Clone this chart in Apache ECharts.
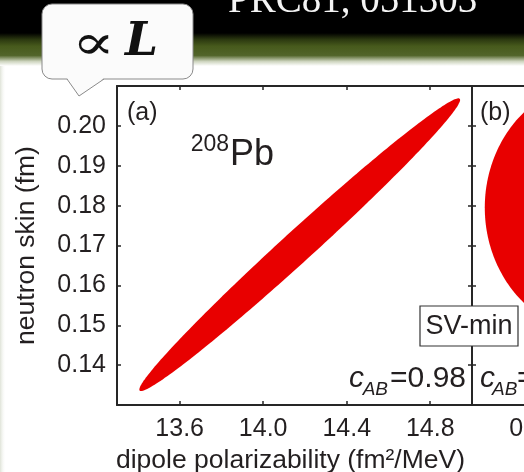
<!DOCTYPE html>
<html>
<head>
<meta charset="utf-8">
<script src="https://cdn.jsdelivr.net/npm/echarts@6/dist/echarts.min.js"></script>
<style>
  html, body { margin: 0; padding: 0; background: #ffffff; }
  #chart { width: 524px; height: 472px; }
</style>
</head>
<body>
<div id="chart"></div>
<script>
// Axis ranges and ticks
const polarizabilityRange = [13.3, 15.0];
const polarizabilityTicks = [13.6, 14.0, 14.4, 14.8];
const skinRange = [0.13, 0.21];
const skinTicks = [0.14, 0.15, 0.16, 0.17, 0.18, 0.19, 0.20];
const panelBRange = [0.3, 0.95];
const panelBTicks = [0.4, 0.5, 0.6, 0.7, 0.8, 0.9];

// Covariance ellipses: [centre x, centre y, half-span x, half-span y, half-thickness in y at centre x]
const pbEllipse = [14.175, 0.1702, 0.768, 0.0367, 0.00527];
const panelBEllipse = [0.534, 0.1795, 0.2106, 0.0318, 0.0318];

const correlationA = '0.98';

const chart = echarts.init(document.getElementById('chart'), null, { renderer: 'canvas' });

const AXIS_COLOR = '#262626';
const TEXT_COLOR = '#231f20';
const FONT = 'Liberation Sans';

function ellipseItem(color) {
  return function (params, api) {
    const cx = api.value(0), cy = api.value(1);
    const ax = api.value(2), ay = api.value(3), h = api.value(4);
    const rho = Math.sqrt(Math.max(0, 1 - (h / ay) * (h / ay)));
    const pts = [];
    const n = 240;
    for (let i = 0; i < n; i++) {
      const t = 2 * Math.PI * i / n;
      const x = cx + ax * Math.cos(t);
      const y = cy + rho * ay * Math.cos(t) + h * Math.sin(t);
      pts.push(api.coord([x, y]));
    }
    return { type: 'polygon', shape: { points: pts }, style: { fill: color } };
  };
}

function tickStyle(values) {
  return { show: true, inside: true, length: 4, customValues: values, lineStyle: { color: AXIS_COLOR, width: 1.5 } };
}

function frameAxis(extra) {
  return Object.assign({
    type: 'value',
    axisLine: { show: true, onZero: false, lineStyle: { color: AXIS_COLOR, width: 2 } },
    axisLabel: { show: false },
    splitLine: { show: false },
    minorTick: { show: false }
  }, extra);
}

const labelStyle = { color: TEXT_COLOR, fontFamily: FONT, fontSize: 25 };
const nameStyle = { color: TEXT_COLOR, fontFamily: FONT, fontSize: 26.5 };

// text anchored on its baseline (middle alignment shifted by roughly a third of the size)
function label(text, x, baseline, size, opts) {
  opts = opts || {};
  return {
    type: 'text', z: opts.z || 10, x: x, y: baseline - 0.35 * size,
    scaleX: opts.scaleX || 1,
    style: {
      text: text, fill: opts.color || TEXT_COLOR,
      font: (opts.style || '') + ' ' + size + 'px ' + (opts.family || '"Liberation Sans"'),
      align: opts.align || 'left', verticalAlign: 'middle'
    }
  };
}

const option = {
  animation: false,
  backgroundColor: '#ffffff',
  grid: [
    { left: 117, top: 86, width: 355, height: 319, containLabel: false, outerBoundsMode: 'none' },
    { left: 472, top: 86, width: 355, height: 319, containLabel: false, outerBoundsMode: 'none' }
  ],
  xAxis: [
    frameAxis({
      gridIndex: 0, position: 'bottom',
      min: polarizabilityRange[0], max: polarizabilityRange[1],
      axisTick: tickStyle(polarizabilityTicks),
      axisLabel: Object.assign({ show: true, customValues: polarizabilityTicks, margin: 12, formatter: v => v.toFixed(1) }, labelStyle),
      name: 'dipole polarizability (fm²/MeV)', nameLocation: 'middle', nameGap: 41,
      nameTextStyle: Object.assign({ padding: [0, 8, 0, 0] }, nameStyle)
    }),
    frameAxis({
      gridIndex: 0, position: 'top',
      min: polarizabilityRange[0], max: polarizabilityRange[1],
      axisTick: tickStyle(polarizabilityTicks)
    }),
    frameAxis({
      gridIndex: 1, position: 'bottom',
      min: panelBRange[0], max: panelBRange[1],
      axisTick: tickStyle(panelBTicks),
      axisLabel: Object.assign({ show: true, customValues: panelBTicks, margin: 12, formatter: v => v.toFixed(1) }, labelStyle)
    }),
    frameAxis({
      gridIndex: 1, position: 'top',
      min: panelBRange[0], max: panelBRange[1],
      axisTick: tickStyle(panelBTicks)
    })
  ],
  yAxis: [
    frameAxis({
      gridIndex: 0, position: 'left',
      min: skinRange[0], max: skinRange[1],
      axisTick: tickStyle(skinTicks),
      axisLabel: Object.assign({ show: true, customValues: skinTicks, margin: 11, formatter: v => v.toFixed(2) }, labelStyle),
      name: 'neutron skin (fm)', nameLocation: 'middle', nameGap: 77, nameRotate: 90,
      nameTextStyle: nameStyle
    }),
    frameAxis({
      gridIndex: 0, position: 'right',
      min: skinRange[0], max: skinRange[1],
      axisTick: tickStyle(skinTicks)
    }),
    frameAxis({
      gridIndex: 1, position: 'left',
      min: skinRange[0], max: skinRange[1],
      axisTick: tickStyle(skinTicks)
    })
  ],
  series: [
    {
      type: 'custom', xAxisIndex: 0, yAxisIndex: 0, clip: true,
      renderItem: ellipseItem('#e80000'),
      encode: { x: [0, 2], y: [1, 3] },
      data: [pbEllipse]
    },
    {
      type: 'custom', xAxisIndex: 2, yAxisIndex: 2, clip: true,
      renderItem: ellipseItem('#e80000'),
      encode: { x: [0, 2], y: [1, 3] },
      data: [panelBEllipse]
    }
  ],
  graphic: [
    // slide header band
    {
      type: 'rect', z: -10, silent: true,
      shape: { x: 0, y: 0, width: 524, height: 66 },
      style: {
        fill: new echarts.graphic.LinearGradient(0, 0, 0, 1, [
          { offset: 0, color: '#000000' },
          { offset: 0.5, color: '#000000' },
          { offset: 0.6, color: '#2c3910' },
          { offset: 0.7, color: '#475a1c' },
          { offset: 0.84, color: '#52652a' },
          { offset: 0.93, color: '#cdd4be' },
          { offset: 1, color: '#ffffff' }
        ])
      }
    },
    {
      type: 'rect', z: -9, silent: true,
      shape: { x: 0, y: 66, width: 6, height: 406 },
      style: {
        fill: new echarts.graphic.LinearGradient(0, 0, 1, 0, [
          { offset: 0, color: '#dfe3d8' },
          { offset: 1, color: 'rgba(255,255,255,0)' }
        ])
      }
    },
    label('PRC81, 051303', 228, 15, 39, { family: '"Liberation Serif"', color: '#f4f4f4' }),
    // callout bubble
    {
      type: 'rect', z: 10,
      shape: { x: 42, y: 4, width: 151, height: 75, r: 10 },
      style: { fill: '#fbfbfb', stroke: '#8a8a8a', lineWidth: 1 }
    },
    {
      type: 'polygon', z: 11,
      shape: { points: [[67, 78], [79, 96], [104, 78]] },
      style: { fill: '#fbfbfb' }
    },
    {
      type: 'polyline', z: 12,
      shape: { points: [[67, 79], [79, 96], [104, 79]] },
      style: { stroke: '#8a8a8a', lineWidth: 1, fill: null }
    },
    label('∝', 72, 63, 49, { family: '"DejaVu Serif"', color: '#111', scaleX: 1.3, z: 12 }),
    label('L', 125, 59, 47, { family: '"DejaVu Serif"', style: 'italic bold', color: '#111', z: 12 }),
    // panel annotations
    label('(a)', 127, 122, 25),
    label('(b)', 480, 122, 25),
    label('208', 229, 153, 23, { align: 'right' }),
    label('Pb', 230, 168, 36),
    {
      type: 'rect', z: 10,
      shape: { x: 420, y: 306, width: 98, height: 40 },
      style: { fill: '#ffffff', stroke: '#333333', lineWidth: 1.2 }
    },
    label('SV-min', 469, 336, 27, { align: 'center', z: 11 }),
    label('c', 364, 389, 30, { style: 'italic', align: 'right' }),
    label('AB', 388, 396, 19, { style: 'italic', align: 'right' }),
    label('=' + correlationA, 466, 389, 30, { align: 'right' }),
    label('c', 480, 389, 30, { style: 'italic' }),
    label('AB', 492, 396, 19, { style: 'italic' }),
    label('=', 517, 389, 30)
  ]
};

chart.setOption(option);
</script>
</body>
</html>
